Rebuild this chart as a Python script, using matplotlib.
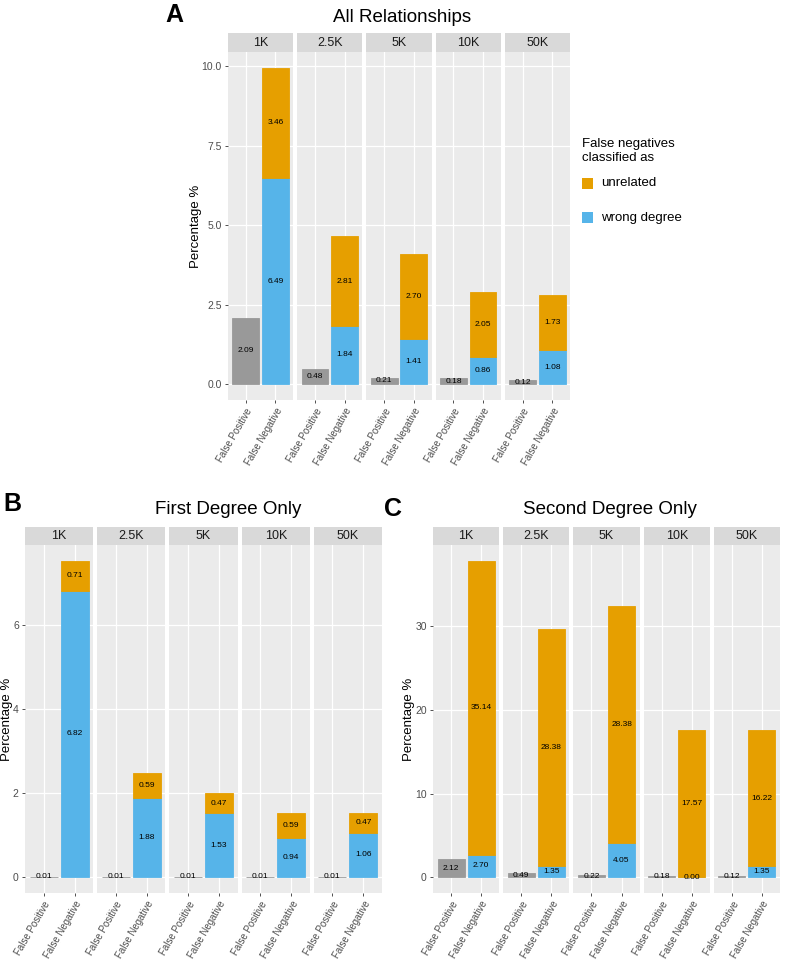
import numpy as np
import matplotlib
matplotlib.use("Agg")
import matplotlib.pyplot as plt
from matplotlib.patches import Rectangle

plt.rcParams['font.family'] = ['Liberation Sans', 'DejaVu Sans']

# ---------------- data ----------------
thresholds = ["1K", "2.5K", "5K", "10K", "50K"]
categories = ["False Positive", "False Negative"]

all_fp = [2.09, 0.48, 0.21, 0.18, 0.12]
all_wrong = [6.49, 1.84, 1.41, 0.86, 1.08]
all_unrel = [3.46, 2.81, 2.70, 2.05, 1.73]

first_fp = [0.01, 0.01, 0.01, 0.01, 0.01]
first_wrong = [6.82, 1.88, 1.53, 0.94, 1.06]
first_unrel = [0.71, 0.59, 0.47, 0.59, 0.47]

second_fp = [2.12, 0.49, 0.22, 0.18, 0.12]
second_wrong = [2.70, 1.35, 4.05, 0.00, 1.35]
second_unrel = [35.14, 28.38, 28.38, 17.57, 16.22]

ticks_all = [0, 2.5, 5.0, 7.5, 10.0]
ticks_first = [0, 2, 4, 6]
ticks_second = [0, 10, 20, 30]

legend_labels = ["unrelated", "wrong degree"]

# ---------------- style ----------------
GREY = "#999999"
BLUE = "#56B4E9"
ORANGE = "#E69F00"
PANEL_BG = "#EBEBEB"
STRIP_BG = "#D9D9D9"

W, H = 786, 960
fig = plt.figure(figsize=(W / 100, H / 100), dpi=100)


def fx(x):
    return x / W


def fy(y):
    return 1 - y / H


def group(left, right, top, bottom, strip_top, fp, wrong, unrel, yticks, fmt,
          ylabel_x):
    n = len(thresholds)
    gap = 4.0
    pw = (right - left - gap * (n - 1)) / n
    ymax = max(max(w + u for w, u in zip(wrong, unrel)), max(fp))
    lo, hi = -0.05 * ymax, 1.05 * ymax
    for i in range(n):
        x0 = left + i * (pw + gap)
        ax = fig.add_axes([fx(x0), fy(bottom), pw / W, (bottom - top) / H])
        ax.set_facecolor(PANEL_BG)
        for s in ax.spines.values():
            s.set_visible(False)
        ax.bar(1, fp[i], width=0.9, color=GREY, edgecolor=GREY, linewidth=0.6, zorder=2)
        ax.bar(2, wrong[i], width=0.9, color=BLUE, edgecolor=BLUE, linewidth=0.6, zorder=2)
        ax.bar(2, unrel[i], bottom=wrong[i], width=0.9, color=ORANGE,
               edgecolor=ORANGE, linewidth=0.6, zorder=2)
        ax.text(1, fp[i] / 2, f"{fp[i]:.2f}", ha="center", va="center",
                fontsize=6, color="black", zorder=3)
        ax.text(2, wrong[i] / 2, f"{wrong[i]:.2f}", ha="center", va="center",
                fontsize=6, color="black", zorder=3)
        ax.text(2, wrong[i] + unrel[i] / 2, f"{unrel[i]:.2f}", ha="center",
                va="center", fontsize=6, color="black", zorder=3)
        ax.set_xlim(0.4, 2.6)
        ax.set_ylim(lo, hi)
        ax.set_xticks([1, 2])
        ax.set_xticklabels(categories, rotation=60, ha="right", va="top",
                           rotation_mode="anchor", fontsize=7, color="#4D4D4D")
        ax.set_yticks(yticks)
        ax.set_yticklabels([fmt(t) for t in yticks], fontsize=7.5, color="#4D4D4D")
        ax.grid(color="white", linewidth=0.9, zorder=0)
        ax.set_axisbelow(True)
        ax.tick_params(length=2.5, width=0.6, color="#333333", pad=2)
        if i > 0:
            ax.tick_params(axis="y", length=0, labelleft=False)
        # strip
        sax = fig.add_axes([fx(x0), fy(top), pw / W, (top - strip_top) / H])
        sax.set_facecolor(STRIP_BG)
        sax.set_xticks([])
        sax.set_yticks([])
        for s in sax.spines.values():
            s.set_visible(False)
        sax.text(0.5, 0.5, thresholds[i], ha="center", va="center",
                 fontsize=9, color="#1A1A1A", transform=sax.transAxes)
    fig.text(fx(ylabel_x), fy((top + bottom) / 2), "Percentage %", rotation=90,
             ha="center", va="center", fontsize=9.5, color="black")


# Panel A
group(228, 570, 52, 400, 33, all_fp, all_wrong, all_unrel, ticks_all,
      lambda t: f"{t:.1f}", 196)
fig.text(fx(402), fy(17), "All Relationships", ha="center", va="center", fontsize=13.5)
fig.text(fx(174), fy(15), "A", ha="center", va="center", fontsize=18, fontweight="bold")

# Panel B
group(25, 382, 545, 893, 527, first_fp, first_wrong, first_unrel, ticks_first,
      lambda t: f"{t:g}", 7)
fig.text(fx(228), fy(510), "First Degree Only", ha="center", va="center", fontsize=13.5)
fig.text(fx(12), fy(504), "B", ha="center", va="center", fontsize=18, fontweight="bold")

# Panel C
group(433, 780, 545, 893, 527, second_fp, second_wrong, second_unrel, ticks_second,
      lambda t: f"{t:g}", 409)
fig.text(fx(610), fy(510), "Second Degree Only", ha="center", va="center", fontsize=13.5)
fig.text(fx(393), fy(509), "C", ha="center", va="center", fontsize=18, fontweight="bold")

# Legend
fig.text(fx(582), fy(151), "False negatives\nclassified as", ha="left", va="center",
         fontsize=9.5, linespacing=1.2)
for j, (lab, col) in enumerate(zip(legend_labels, [ORANGE, BLUE])):
    yc = 183.5 + j * 34
    fig.add_artist(Rectangle((fx(582), fy(yc + 5.5)), 11 / W, 11 / H,
                             transform=fig.transFigure, facecolor=col,
                             edgecolor="none"))
    fig.text(fx(601), fy(yc), lab, ha="left", va="center", fontsize=9.5)

fig.savefig("out.png", dpi=100)
